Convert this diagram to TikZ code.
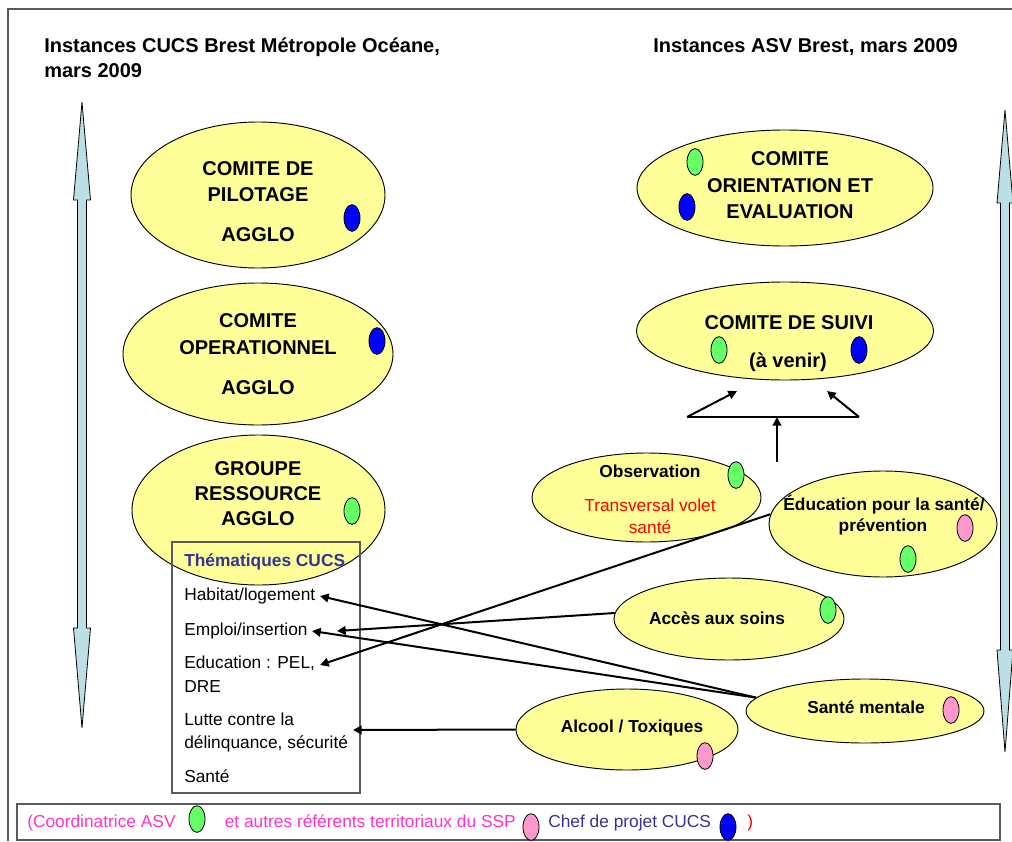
\documentclass[tikz,border=0pt]{standalone}
\usepackage{fontspec}
\setmainfont{Liberation Sans}
\usetikzlibrary{shapes.geometric,arrows.meta}

\definecolor{bubblefill}{HTML}{FFFF99}
\definecolor{shaftfill}{HTML}{BBDFE2}
\definecolor{framegrey}{HTML}{5A5A5A}
\definecolor{mkgreen}{HTML}{66FF66}
\definecolor{mkpink}{HTML}{FF99CC}
\definecolor{mkblue}{HTML}{0000FF}
\definecolor{navytext}{HTML}{333399}
\definecolor{magtext}{HTML}{FF33CC}

\tikzset{
  bubble/.style={ellipse, draw=black, line width=0.7pt, fill=bubblefill, inner sep=0pt},
  marker/.style={ellipse, draw=black, line width=0.6pt, minimum width=12pt, minimum height=20pt, inner sep=0pt},
  bigtxt/.style={font=\fontsize{15}{18}\selectfont\bfseries, anchor=base, inner sep=0pt},
  midtxt/.style={font=\fontsize{13}{15.6}\selectfont\bfseries, anchor=base, inner sep=0pt},
  listtxt/.style={font=\fontsize{13}{15.6}\selectfont, anchor=base west, inner sep=0pt},
  legtxt/.style={font=\fontsize{13}{15.6}\selectfont, anchor=base west, inner sep=0pt},
  link/.style={line width=1.5pt, -{Triangle[length=6.5pt,width=6.5pt]}},
  vertarrow/.style={fill=shaftfill, draw=black, line width=0.6pt},
}

\begin{document}
\begin{tikzpicture}[x=0.75pt,y=-0.75pt]
\useasboundingbox (0,0) rectangle (1012,841);

% outer frame (top and left edges)
\draw[framegrey, line width=1.2pt] (8,841) -- (8,9) -- (1012,9);

% titles
\node[bigtxt, anchor=base west] (titleA) at (44,53) {Instances CUCS Brest Métropole Océane,};
\node[bigtxt, anchor=base west] (titleB) at (44,78) {mars 2009};
\node[bigtxt, anchor=base west] (titleC) at (653,53) {Instances ASV Brest, mars 2009};

% double-headed vertical arrows
\draw[vertarrow] (82,102) -- (90.5,200) -- (86.5,200) -- (86.5,628) -- (90.5,628) -- (82,728)
  -- (73.5,628) -- (77.5,628) -- (77.5,200) -- (73.5,200) -- cycle;
\draw[vertarrow] (1005,110) -- (1013,203) -- (1009.5,203) -- (1009.5,650) -- (1013,650) -- (1005,752)
  -- (997,650) -- (1000.5,650) -- (1000.5,203) -- (997,203) -- cycle;

% ---- CUCS instances ----
\node[bubble, minimum width=190.5pt, minimum height=109.5pt] (pil) at (258,195) {};
\node[bigtxt] (pilA) at (258,176) {COMITE DE};
\node[bigtxt] (pilB) at (258,202) {PILOTAGE};
\node[bigtxt] (pilC) at (258,242) {AGGLO};
\node[marker, fill=mkblue] (pilM) at (352,218) {};

\node[bubble, minimum width=202.5pt, minimum height=106.5pt] (ope) at (258,354) {};
\node[bigtxt] (opeA) at (258,327) {COMITE};
\node[bigtxt] (opeB) at (258,354) {OPERATIONNEL};
\node[bigtxt] (opeC) at (258,394) {AGGLO};
\node[marker, fill=mkblue] (opeM) at (377,341) {};

\node[bubble, minimum width=189.75pt, minimum height=112.5pt] (grp) at (258.5,510) {};
\node[bigtxt] (grpA) at (258,475) {GROUPE};
\node[bigtxt] (grpB) at (258,500) {RESSOURCE};
\node[bigtxt] (grpC) at (258,525) {AGGLO};
\node[marker, fill=mkgreen] (grpM) at (352,511) {};

% thematic list box
\node[draw=framegrey, line width=0.8pt, rectangle, minimum width=141pt, minimum height=188.25pt, inner sep=0pt] (thm) at (266,667.5) {};
\node[midtxt, anchor=base west, text=navytext] (thmT) at (184,566) {Thématiques CUCS};
\node[listtxt] (hab) at (184,600.5) {Habitat/logement};
\node[listtxt] (emp) at (184,635) {Emploi/insertion};
\node[listtxt] (edl) at (184,668) {Education : PEL,};
\node[listtxt] (dre) at (184,692) {DRE};
\node[listtxt] (lut) at (184,725) {Lutte contre la};
\node[listtxt] (del) at (184,748) {délinquance, sécurité};
\node[listtxt] (san) at (184,782) {Santé};

% ---- ASV instances ----
\node[bubble, minimum width=222pt, minimum height=87pt] (ori) at (785,188) {};
\node[bigtxt] (oriA) at (790,166) {COMITE};
\node[bigtxt] (oriB) at (790,193) {ORIENTATION ET};
\node[bigtxt] (oriC) at (790,219) {EVALUATION};
\node[marker, fill=mkgreen] (oriM1) at (695,162) {};
\node[marker, fill=mkblue] (oriM2) at (687,207) {};

\node[bubble, minimum width=222.75pt, minimum height=73.5pt] (sui) at (785,331) {};
\node[bigtxt] (suiA) at (789,329) {COMITE DE SUIVI};
\node[bigtxt] (suiB) at (788,367) {(à venir)};
\node[marker, fill=mkgreen] (suiM1) at (719,350) {};
\node[marker, fill=mkblue] (suiM2) at (859,350) {};

% fork feeding the follow-up committee
\coordinate (forkL) at (687,417);
\coordinate (forkR) at (859,417);
\coordinate (forkM) at (777,417);
\coordinate (forkS) at (777,462);
\coordinate (tipL) at (737,391);
\coordinate (tipR) at (827,391);
\draw[line width=0.8pt] (forkL) -- (forkR);
\draw[link] (forkL) -- (tipL);
\draw[link] (forkR) -- (tipR);
\draw[link] (forkS) -- (forkM);

\node[bubble, minimum width=171.75pt, minimum height=66.75pt] (obs) at (646.5,497.5) {};
\node[midtxt] (obsA) at (650,477) {Observation};
\node[midtxt, font=\fontsize{13}{15.6}\selectfont, text=red] (obsB) at (650,511) {Transversal volet};
\node[midtxt, font=\fontsize{13}{15.6}\selectfont, text=red] (obsC) at (650,533) {santé};
\node[marker, fill=mkgreen] (obsM) at (736,475) {};

\node[bubble, minimum width=171pt, minimum height=79.5pt] (edu) at (883,524) {};
\node[midtxt] (eduA) at (884,510) {Éducation pour la santé/};
\node[midtxt] (eduB) at (883,531) {prévention};
\node[marker, fill=mkpink] (eduM1) at (965,528) {};
\node[marker, fill=mkgreen] (eduM2) at (908,559) {};

\node[bubble, minimum width=172.5pt, minimum height=61.5pt] (acc) at (729,619) {};
\node[midtxt] (accA) at (717,624) {Accès aux soins};
\node[marker, fill=mkgreen] (accM) at (828,610) {};

\node[bubble, minimum width=178.5pt, minimum height=48pt] (sm) at (865,711) {};
\node[midtxt] (smA) at (866,713) {Santé mentale};
\node[marker, fill=mkpink] (smM) at (951,710) {};

\node[bubble, minimum width=166.5pt, minimum height=60.75pt] (alc) at (627,729.5) {};
\node[midtxt] (alcA) at (632,732) {Alcool / Toxiques};
\node[marker, fill=mkpink] (alcM) at (705,756) {};

% links from ASV themes to CUCS themes
\coordinate (aHab) at (320,596);
\coordinate (aEmpA) at (337,631);
\coordinate (aEmpB) at (312,631);
\coordinate (aEdu) at (320,665);
\coordinate (aLut) at (353,730);
\draw[link] (edu.175) -- (aEdu);
\draw[link] (acc.177) -- (aEmpA);
\draw[link] (sm.173) -- (aHab);
\draw[link] (sm.173) -- (aEmpB);
\draw[link] (alc.west) -- (aLut);

% legend
\draw[framegrey, line width=0.9pt] (17,804) rectangle (1000,840);
\node[legtxt, text=magtext] (legA) at (27,827) {(Coordinatrice ASV};
\node[marker, fill=mkgreen] (legM1) at (197,819) {};
\node[legtxt, text=magtext] (legB) at (224.5,827) {et autres référents territoriaux du SSP};
\node[marker, fill=mkpink] (legM2) at (531,827) {};
\node[legtxt, text=navytext] (legC) at (548,827) {Chef de projet CUCS};
\node[marker, fill=mkblue] (legM3) at (728,827) {};
\node[legtxt, text=red] (legD) at (747,827) {)};
\end{tikzpicture}
\end{document}
